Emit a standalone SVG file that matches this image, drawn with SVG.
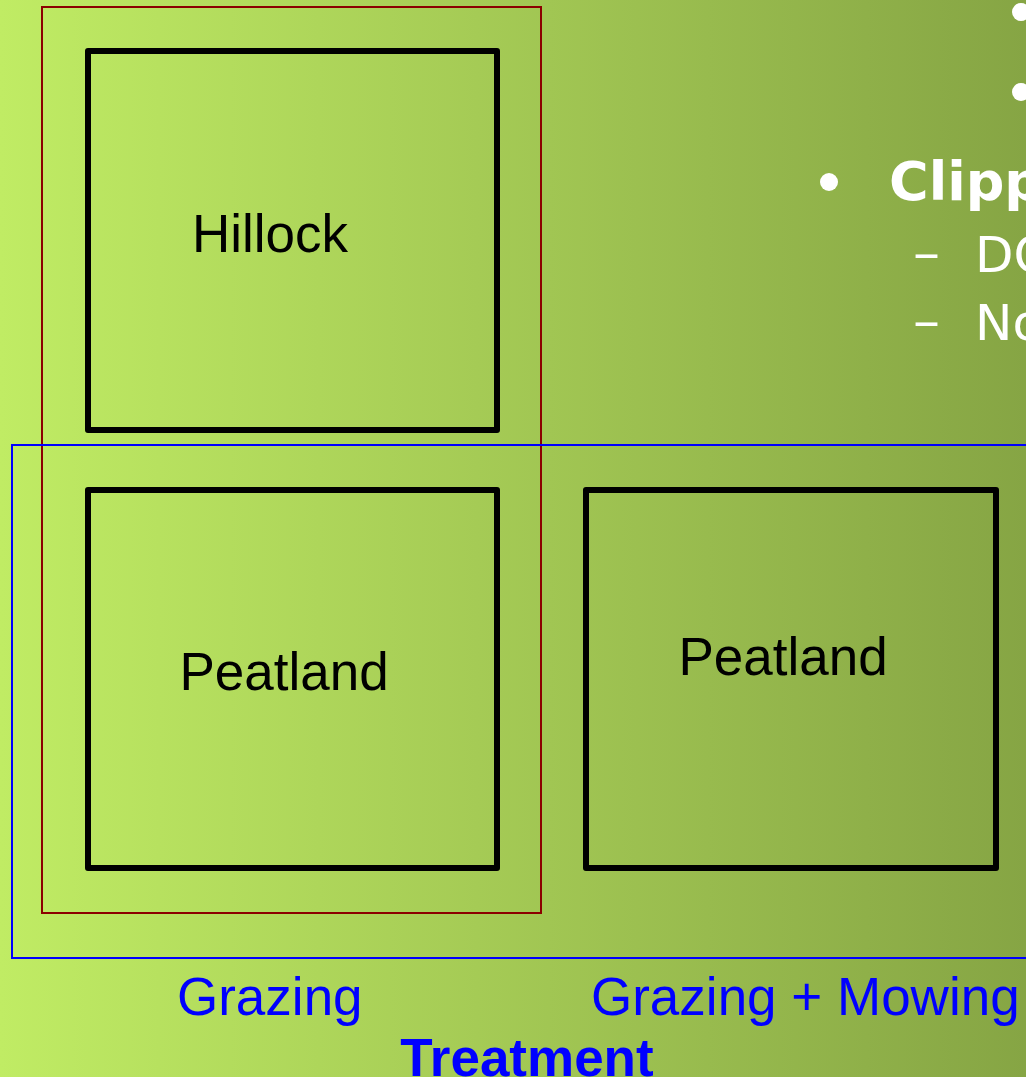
<svg xmlns="http://www.w3.org/2000/svg" width="1026" height="1077" viewBox="0 0 1026 1077">
<defs>
<linearGradient id="bg" x1="0" y1="0" x2="1" y2="0">
<stop offset="0" stop-color="#c0ec64"/>
<stop offset="1" stop-color="#86a544"/>
</linearGradient>
</defs>
<style>
.box{fill:none;stroke:#000;stroke-width:6;stroke-linejoin:round}
.lbl{font-family:"Liberation Sans",Arial,sans-serif;font-size:53px;fill:#000;text-anchor:middle}
.blue{font-family:"Liberation Sans",Arial,sans-serif;font-size:53px;fill:#0000ff}
.w{font-family:"DejaVu Sans",Verdana,sans-serif;fill:#fff}
</style>
<rect width="1026" height="1077" fill="url(#bg)"/>
<g id="bullets">
<circle cx="1021" cy="12" r="9" fill="#fff"/>
<circle cx="1021" cy="92" r="9" fill="#fff"/>
<circle cx="829" cy="182" r="9" fill="#fff"/>
<text class="w" x="889" y="200" font-size="54" font-weight="bold">Clipp</text>
<text class="w" x="913" y="270" font-size="50" textLength="27" lengthAdjust="spacingAndGlyphs">–</text>
<text class="w" x="975" y="272" font-size="50">DO</text>
<text class="w" x="913" y="338" font-size="50" textLength="27" lengthAdjust="spacingAndGlyphs">–</text>
<text class="w" x="975" y="340" font-size="50">No</text>
</g>
<g id="groups">
<rect id="hillock-group" x="42" y="7" width="499" height="906" fill="none" stroke="#8b0000" stroke-width="2"/>
<rect id="peatland-group" x="12" y="445" width="1030" height="513" fill="none" stroke="#0000ff" stroke-width="2"/>
</g>
<g id="hillock">
<rect class="box" x="88" y="51" width="409" height="379"/>
<text class="lbl" x="270" y="252">Hillock</text>
</g>
<g id="peatland-left">
<rect class="box" x="88" y="490" width="409" height="378"/>
<text class="lbl" x="284" y="690">Peatland</text>
</g>
<g id="peatland-right">
<rect class="box" x="586" y="490" width="410" height="378"/>
<text class="lbl" x="783" y="675">Peatland</text>
</g>
<g id="labels">
<text class="blue" x="177" y="1015">Grazing</text>
<text class="blue" x="591" y="1015">Grazing + Mowing</text>
<text class="blue" x="527" y="1076" font-weight="bold" text-anchor="middle">Treatment</text>
</g>
</svg>
